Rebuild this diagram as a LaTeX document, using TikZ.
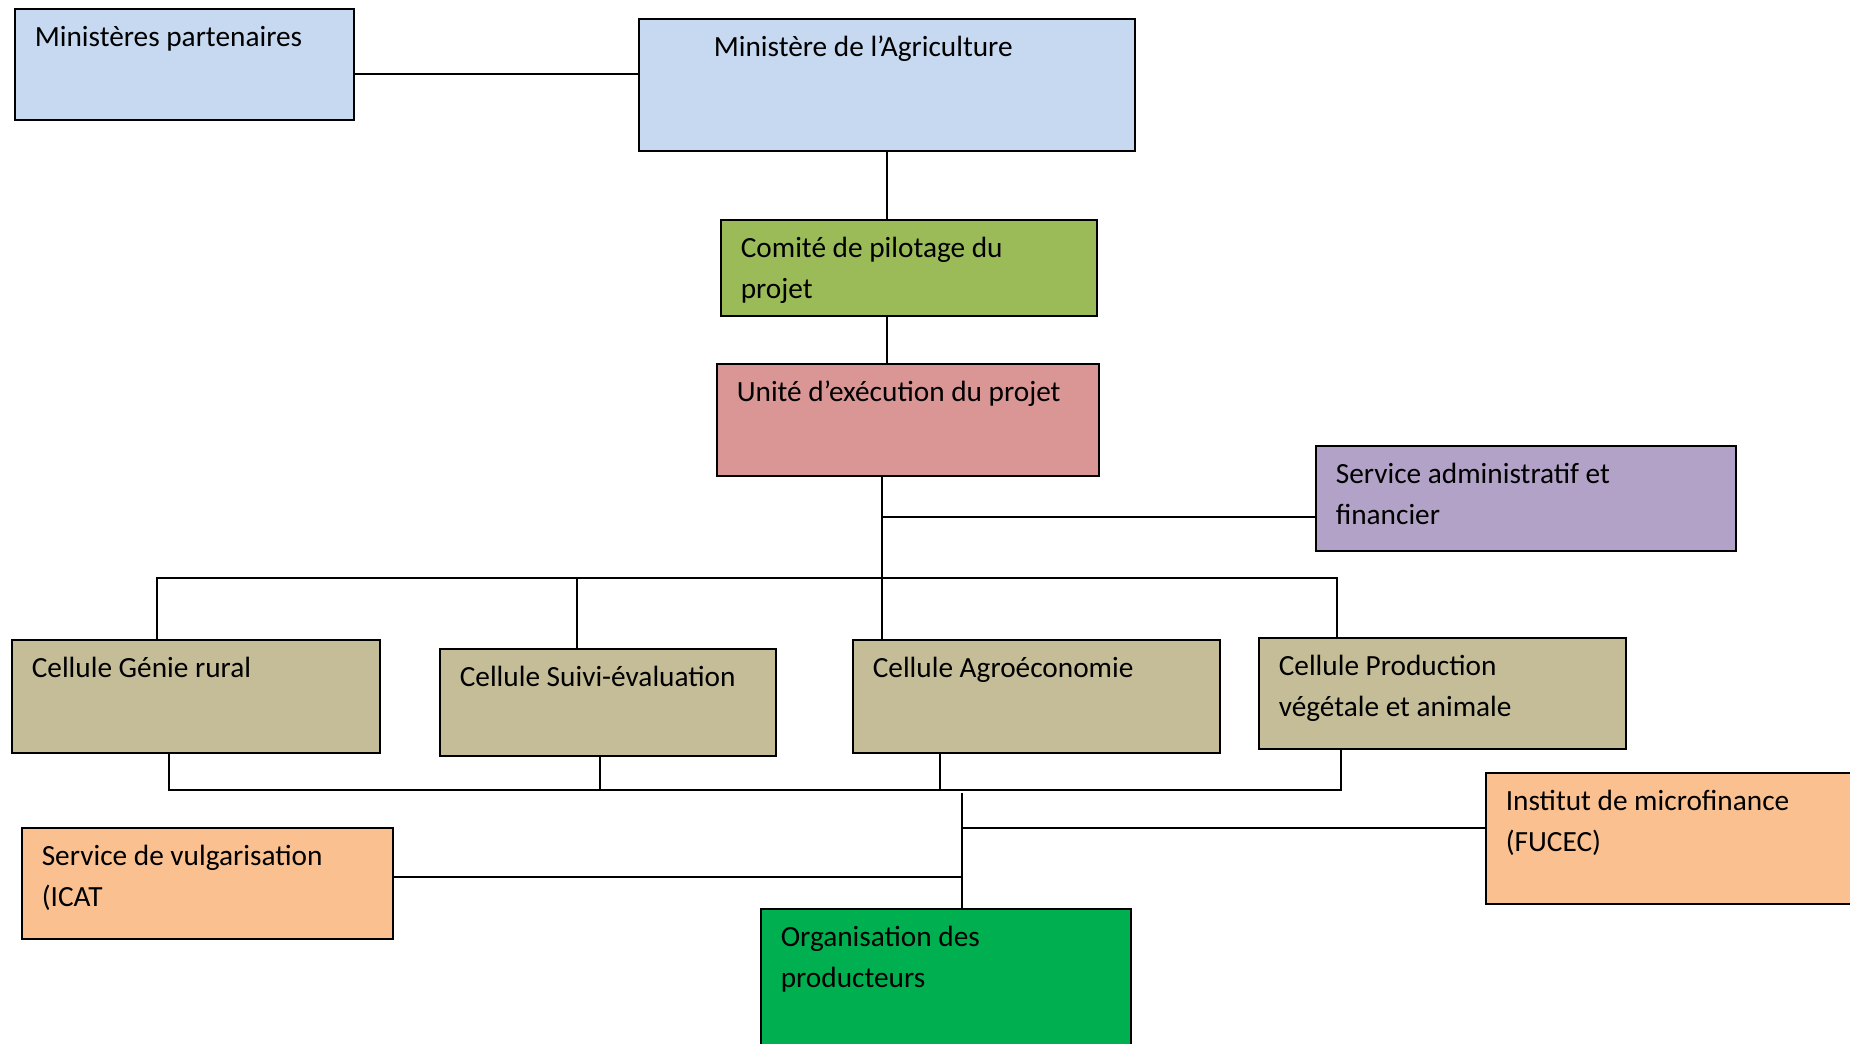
\documentclass[tikz,border=0pt]{standalone}
\usepackage{fontspec}
\setmainfont{Carlito}
\usetikzlibrary{positioning}

\definecolor{bleuclair}{HTML}{C6D9F1}
\definecolor{vertpilot}{HTML}{9BBB59}
\definecolor{rougeue}{HTML}{D99694}
\definecolor{violetsaf}{HTML}{B2A2C7}
\definecolor{kakicell}{HTML}{C4BD97}
\definecolor{orangepart}{HTML}{FAC090}
\definecolor{vertop}{HTML}{00B050}

% text at the top left of a box
\newcommand{\celltext}[3]{\parbox[t][#1][t]{#2}{\raggedright\rule{0pt}{38pt}#3}}

\tikzset{
  box/.style={draw=black, line width=1.6pt, anchor=north west, inner xsep=20pt,
    inner ysep=0pt, text=black, font=\fontsize{29.3}{41}\selectfont},
  link/.style={line width=1.4pt, line cap=rect}
}

\begin{document}
\begin{tikzpicture}[x=1pt,y=-1pt]
    \useasboundingbox (0,0) rectangle (1850,1044);
    % Top level
    \node[box, fill=bleuclair] (mp) at (14,8) {\celltext{111pt}{299pt}{Ministères partenaires}};
    \node[box, fill=bleuclair, inner xsep=75pt] (ma) at (638,18) {\celltext{132pt}{346pt}{Ministère de l’Agriculture}};
    \node[box, fill=vertpilot] (cp) at (720,219) {\celltext{96pt}{336pt}{Comité de pilotage du\\projet}};
    \node[box, fill=rougeue] (ue) at (716,363) {\celltext{112pt}{342pt}{Unité d’exécution du projet}};
    \node[box, fill=violetsaf] (saf) at (1315,445) {\celltext{105pt}{380pt}{Service administratif et\\financier}};
    % Cells
    \node[box, fill=kakicell] (cgr) at (11,639) {\celltext{113pt}{328pt}{Cellule Génie rural}};
    \node[box, fill=kakicell] (cse) at (439,648) {\celltext{107pt}{296pt}{Cellule Suivi-évaluation}};
    \node[box, fill=kakicell] (cae) at (852,639) {\celltext{113pt}{327pt}{Cellule Agroéconomie}};
    \node[box, fill=kakicell] (cpv) at (1258,637) {\celltext{111pt}{327pt}{Cellule Production\\végétale et animale}};
    % Partners
    \node[box, fill=orangepart] (imf) at (1485,772) {\celltext{131pt}{360pt}{Institut de microfinance\\(FUCEC)}};
    \node[box, fill=orangepart] (svg) at (21,827) {\celltext{111pt}{331pt}{Service de vulgarisation\\(ICAT}};
    \node[box, fill=vertop] (op) at (760,908) {\celltext{150pt}{330pt}{Organisation des\\producteurs}};

    % Junction points
    \coordinate (sa) at (882,517);
    \coordinate (t1) at (157,578);
    \coordinate (t2) at (577,578);
    \coordinate (t3) at (882,578);
    \coordinate (t4) at (1337,578);
    \coordinate (u1) at (169,790);
    \coordinate (u2) at (600,790);
    \coordinate (u3) at (940,790);
    \coordinate (u4) at (1341,790);
    \coordinate (tr) at (962,790);

    % Connectors
    \draw[link] ([yshift=-9.5pt]mp.east) -- ([yshift=-9.5pt]mp.east -| ma.west);
    \draw[link] (ma.south) -- (ma.south |- cp.north);
    \draw[link] (ma.south |- cp.south) -- (ma.south |- ue.north);
    \draw[link] (sa |- ue.south) -- (t3);
    \draw[link] (sa) -- (sa -| saf.west);
    \draw[link] (t1) -- (t4);
    \foreach \t/\c in {t1/cgr, t2/cse, t3/cae, t4/cpv}
        \draw[link] (\t) -- (\t |- \c.north);
    \foreach \u/\c in {u1/cgr, u2/cse, u3/cae, u4/cpv}
        \draw[link] (\u |- \c.south) -- (\u);
    \draw[link] (u1) -- (u4);
    \draw[link] ([yshift=-4pt]tr) -- (tr |- op.north);
    \draw[link] (tr |- 0,828) -- (imf.west |- 0,828);
    \draw[link] (svg.east |- 0,877) -- (tr |- 0,877);
\end{tikzpicture}
\end{document}
